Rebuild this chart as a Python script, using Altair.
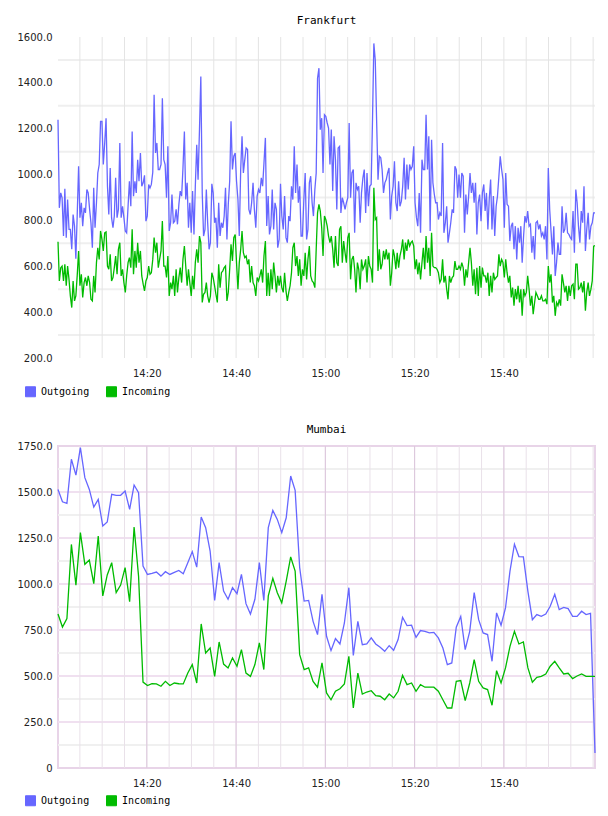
import altair as alt
import pandas as pd

SERIES = ["Outgoing", "Incoming"]
COLORS = ["#6666ff", "#00bb00"]
START = "2024-01-01 14:00:06"
END = "2024-01-01 16:00:25"

FRA_OUT = [
    1239, 855, 920, 899, 732, 938, 725, 891, 761, 761,
    674, 826, 775, 633, 819, 1036, 812, 877, 775, 855,
    833, 935, 920, 848, 790, 681, 942, 768, 877, 1007,
    1044, 1232, 1232, 1044, 1138, 1246, 949, 826, 1029, 812,
    768, 819, 986, 812, 848, 1138, 812, 862, 812, 754,
    746, 862, 971, 862, 1188, 906, 971, 920, 1065, 971,
    1094, 949, 964, 997, 797, 819, 957, 942, 957, 1010,
    1348, 1094, 1138, 1022, 1022, 1044, 1333, 1065, 1044, 899,
    1123, 754, 790, 913, 790, 797, 848, 783, 870, 928,
    906, 1029, 1188,
    891, 964, 768, 877, 746, 928, 739, 949, 1130, 978,
    1196, 1428, 920, 732, 761, 935, 790, 674, 703, 960,
    920, 790, 812, 681, 877, 732, 790, 768, 819, 942,
    717, 870, 971, 1232, 1022, 1080, 1094, 971, 891, 732,
    1022, 1167, 1007, 1065, 1116, 1109, 848, 826, 877, 964,
    848, 768, 906, 935, 920, 986, 949, 1051, 1160, 776,
    906, 739, 776, 935, 761, 877, 848, 681, 717, 960,
    819, 761, 906, 725, 703, 819, 797, 949, 891, 1123,
    920, 1044, 877, 949, 732, 732, 891, 1007, 717, 761,
    964, 993, 877, 819, 935, 1007, 1420, 1464,
    1196, 1246, 1007, 1261, 1254, 1225, 1203, 1044, 1196, 928,
    1167, 1065, 848, 1116, 1123, 833, 899, 877, 848, 877,
    899, 1225, 899, 1007, 1022, 746, 964, 935, 949, 790,
    920, 986, 1022, 833, 1007, 862, 949, 957, 1239, 1572,
    1500, 1239, 978, 1080, 1073, 1022, 920, 964, 978, 1007,
    1029, 804, 906, 949, 1058, 877, 841, 971, 862, 884,
    949, 1073, 891, 1044, 935, 1044, 1022, 1036, 1123, 877,
    812, 775, 920, 746, 1065, 1022, 1022, 1261, 1022, 1167,
    754, 1152, 964, 913, 877, 877, 804, 833, 819, 1138,
    746, 790, 862, 703, 746, 790, 848, 833, 1036, 1022,
    899,
    1000, 899, 1007, 993, 746, 913, 826, 906, 1007, 920,
    964, 877, 964, 739, 877, 913, 797, 920, 957, 841,
    920, 761, 891, 978, 761, 906, 732, 862, 906, 993,
    1080, 1022, 978, 768, 1007, 870, 862, 710, 775, 790,
    674, 775, 630, 768, 703, 775, 616, 732, 819, 790,
    841, 775, 783, 659, 732, 630, 790, 797, 761, 783,
    732, 746, 717, 775, 630, 1029, 848, 754, 652, 775,
    558, 616, 703, 652, 652, 862, 746, 761, 833, 746,
    739, 725, 717, 841, 659, 935, 877, 775, 703, 841,
    790, 949, 667, 761, 833, 717, 775, 790, 833, 833,
]

FRA_IN = [
    707, 536, 594, 601, 536, 609, 515, 601, 543, 471,
    420, 536, 449, 471, 558, 667, 515, 565, 464, 529,
    551, 515, 558, 529, 456, 449, 558, 486, 616, 681,
    630, 754, 717, 667, 746, 750, 601, 587, 652, 536,
    551, 594, 645, 565, 674, 703, 558, 587, 529, 486,
    558, 616, 638, 594, 761, 565, 667, 594, 703, 616,
    667, 558, 522, 493, 536, 551, 601, 565, 572, 630,
    725, 659, 703, 594, 630, 667, 797, 601, 601, 551,
    645, 471, 529, 500, 558, 471, 587, 486, 551, 594,
    529, 630, 688,
    601, 515, 587, 529, 471, 558, 500, 616, 674, 616,
    732, 703, 442, 478, 486, 529, 471, 442, 471, 572,
    551, 515, 478, 442, 609, 507, 572, 580, 594, 601,
    449, 486, 587, 696, 623, 725, 739, 616, 500, 616,
    674, 754, 659, 638, 645, 609, 630, 529, 601, 529,
    515, 471, 551, 536, 558, 587, 529, 645, 710, 471,
    572, 471, 587, 500, 616, 558, 486, 558, 515, 558,
    507, 486, 572, 493, 449, 486, 515, 572, 681, 703,
    601, 645, 558, 630, 515, 587, 558, 659, 543, 630,
    688, 558, 536, 529, 507, 674, 833, 870,
    841, 768, 645, 819, 804, 775, 732, 703, 732, 674,
    594, 732, 616, 601, 761, 775, 616, 710, 659, 616,
    725, 746, 543, 630, 645, 587, 486, 616, 587, 500,
    630, 587, 601, 630, 529, 645, 601, 587, 529, 942,
    804, 812, 580, 674, 587, 609, 667, 630, 674, 630,
    659, 515, 572, 674, 645, 587, 659, 594, 645, 674,
    717, 630, 703, 667, 717, 688, 703, 710, 688, 587,
    630, 565, 616, 543, 616, 681, 587, 732, 616, 681,
    558, 746, 601, 594, 594, 587, 572, 529, 543, 630,
    529, 558, 500, 456, 558, 529, 551, 558, 623, 587,
    587,
    601, 587, 616, 594, 515, 587, 551, 616, 681, 616,
    515, 587, 478, 594, 471, 601, 507, 594, 558, 558,
    529, 572, 471, 558, 486, 572, 543, 551, 558, 652,
    601, 630, 616, 551, 630, 572, 529, 558, 464, 507,
    428, 500, 456, 515, 442, 500, 384, 500, 471, 486,
    558, 500, 428, 471, 391, 442, 486, 471, 456, 456,
    471, 449, 449, 456, 435, 601, 529, 565, 442, 471,
    384, 442, 428, 456, 428, 565, 529, 486, 515, 449,
    515, 471, 515, 522, 456, 609, 609, 500, 507, 529,
    486, 536, 406, 486, 529, 471, 500, 536, 688, 690,
]

MUM_OUT = [
    1514, 1447, 1438, 1678, 1592, 1741, 1578, 1514, 1418, 1460,
    1315, 1337, 1487, 1482, 1482, 1505, 1406, 1538, 1496, 1098,
    1052, 1058, 1065, 1043, 1067, 1052, 1063, 1074, 1056, 1116,
    1176, 1092, 1364, 1306, 1179, 911, 1116, 962, 917, 980,
    947, 1052, 893, 837, 917, 1116, 911, 1306, 1400, 1351,
    1279, 1360, 1587, 1509, 1089, 907, 911,
    797, 725, 944, 716, 638, 703, 674, 788, 980, 612,
    797, 670, 674, 707, 674, 656, 634, 665, 640, 698,
    819, 774, 776, 710, 747, 743, 734, 737, 707, 652,
    562, 571, 765, 824, 643, 743, 953, 806, 734, 725,
    580, 843, 776, 870, 1070, 1216, 1149, 1147, 960, 806,
    834, 824, 837, 879, 944, 861, 873, 866, 824, 824,
    852, 834, 840, 82,
]

MUM_IN = [
    837, 766, 812, 1215, 994, 1279, 1107, 1130, 1002, 1261,
    935, 1049, 1116, 953, 994, 1089, 904, 1310, 1043, 467,
    448, 458, 457, 444, 471, 448, 462, 458, 457, 516,
    562, 462, 783, 625, 652, 498, 685, 565, 544, 598,
    553, 643, 516, 498, 562, 680, 535, 935, 1031, 953,
    898, 1016, 1147, 1070, 616, 535, 544,
    471, 439, 571, 408, 371, 417, 431, 457, 607, 326,
    516, 402, 413, 420, 393, 390, 371, 402, 381, 417,
    504, 453, 462, 417, 453, 439, 439, 439, 417, 371,
    326, 326, 471, 475, 366, 462, 589, 471, 435, 426,
    341, 529, 462, 544, 661, 743, 674, 685, 544, 466,
    493, 498, 511, 553, 580, 544, 511, 515, 486, 500,
    511, 498, 498, 498,
]

# axis tick labels and grid positions
FRA_Y_LABELS = [200, 400, 600, 800, 1000, 1200, 1400, 1600]
FRA_Y_GRID = [300, 500, 700, 900, 1100, 1300, 1500]
MUM_Y_LABELS = [0, 250, 500, 750, 1000, 1250, 1500, 1750]
MUM_Y_GRID_MAJOR = [250, 500, 750, 1000, 1250, 1500]
MUM_Y_GRID_MINOR = [125, 375, 625, 875, 1125, 1375, 1625]
X_LABEL_TIMES = ["14:20", "14:40", "15:00", "15:20", "15:40"]
X_GRID_TIMES = ["14:05", "14:10", "14:15", "14:20", "14:25", "14:30", "14:35", "14:40",
                "14:45", "14:50", "14:55", "15:00", "15:05", "15:10", "15:15", "15:20",
                "15:25", "15:30", "15:35", "15:40", "15:45", "15:50", "15:55", "16:00"]

MONO = "DejaVu Sans Mono"
SANS = "DejaVu Sans"


def dt(hm, sec=0):
    h, m = hm.split(":")
    return alt.DateTime(year=2024, month=1, date=1, hours=int(h), minutes=int(m), seconds=sec)


def stamp(hm):
    return pd.Timestamp("2024-01-01 " + hm)


X_SCALE = alt.Scale(domain=[dt("14:00", 6), dt("16:00", 25)], nice=False)
X_AXIS = alt.Axis(
    title=None,
    values=[dt(s) for s in X_LABEL_TIMES],
    format="%H:%M",
    ticks=False, tickSize=0, domain=False, grid=False,
    labelPadding=10, labelFont=SANS, labelFontSize=10, labelColor="#222",
    labelOverlap=False, labelFlush=False,
)


def y_axis(labels):
    return alt.Axis(
        title=None, values=labels,
        labelExpr="datum.value == 0 ? '0' : format(datum.value, '.1f')",
        ticks=False, tickSize=0, domain=False, grid=False,
        labelPadding=6, labelFont=SANS, labelFontSize=10, labelColor="#222",
        labelOverlap=False, labelFlush=False,
    )


def make_df(out_vals, in_vals):
    n = len(out_vals)
    t = list(pd.date_range(START, END, periods=n).round("s"))
    return pd.DataFrame({
        "time": t + t,
        "series": ["Outgoing"] * n + ["Incoming"] * n,
        "value": list(out_vals) + list(in_vals),
    })


def panel(title, out_vals, in_vals, ylabels, ydom, hgrids, vgrids, height, border):
    df = make_df(out_vals, in_vals)
    cscale = alt.Scale(domain=SERIES, range=COLORS)
    yscale = alt.Scale(domain=ydom, nice=False, zero=False)
    yax = y_axis(ylabels)
    x = alt.X("time:T", scale=X_SCALE, axis=X_AXIS)
    y = alt.Y("value:Q", scale=yscale, axis=yax)

    layers = []
    for vals, color in hgrids:
        d = pd.DataFrame({"value": vals})
        layers.append(alt.Chart(d).mark_rule(color=color, strokeWidth=2).encode(
            y=alt.Y("value:Q", scale=yscale, axis=yax)))
    for times, color in vgrids:
        d = pd.DataFrame({"time": [stamp(s) for s in times]})
        layers.append(alt.Chart(d).mark_rule(color=color, strokeWidth=1).encode(
            x=alt.X("time:T", scale=X_SCALE, axis=X_AXIS)))

    base = alt.Chart(df)
    legend_layer = base.transform_filter("datum.value < -1").mark_square(filled=True, opacity=1).encode(
        x=x, y=y,
        color=alt.Color(
            "series:N", scale=cscale,
            legend=alt.Legend(
                title=None, orient="none", legendX=-33, legendY=349,
                direction="horizontal", symbolType="square", symbolSize=100,
                symbolStrokeColor="#888888", symbolStrokeWidth=1,
                labelFont=MONO, labelFontSize=10, labelColor="#000",
                columnPadding=14, labelOffset=5, padding=0,
            ),
        ),
    )
    out_layer = base.transform_filter("datum.series == 'Outgoing'").mark_line(strokeWidth=1.3).encode(
        x=x, y=y, color=alt.Color("series:N", scale=cscale, legend=None)
    )
    in_layer = base.transform_filter("datum.series == 'Incoming'").mark_line(strokeWidth=1.3).encode(
        x=x, y=y, color=alt.Color("series:N", scale=cscale, legend=None)
    )
    layers += [legend_layer, out_layer, in_layer]
    return alt.layer(*layers).properties(
        width=537, height=height,
        title=alt.TitleParams(title, font=MONO, fontSize=11, fontWeight="normal",
                              color="#000", anchor="middle", offset=6),
        view=alt.ViewBackground(stroke=border, strokeWidth=2),
    )


fra = panel(
    "Frankfurt", FRA_OUT, FRA_IN, FRA_Y_LABELS, [200, 1600],
    [(FRA_Y_GRID, "#efefef")],
    [(X_GRID_TIMES, "#e4e4e4")],
    321, "transparent",
)
mum = panel(
    "Mumbai", MUM_OUT, MUM_IN, MUM_Y_LABELS, [0, 1750],
    [(MUM_Y_GRID_MINOR, "#f0f0f0"), (MUM_Y_GRID_MAJOR, "#f0e0f0")],
    [(X_GRID_TIMES, "#e9e1e9"), (X_LABEL_TIMES, "#dcc6dc")],
    322, "#e8d4e8",
)

chart = alt.vconcat(fra, mum, spacing=23).resolve_scale(
    color="independent"
).resolve_legend(
    color="independent"
).properties(
    padding={"left": 16, "top": 14, "right": 5, "bottom": 5}
).configure_view(stroke="transparent")

chart.save("out.html", embed_options={"renderer": "svg", "actions": False})
